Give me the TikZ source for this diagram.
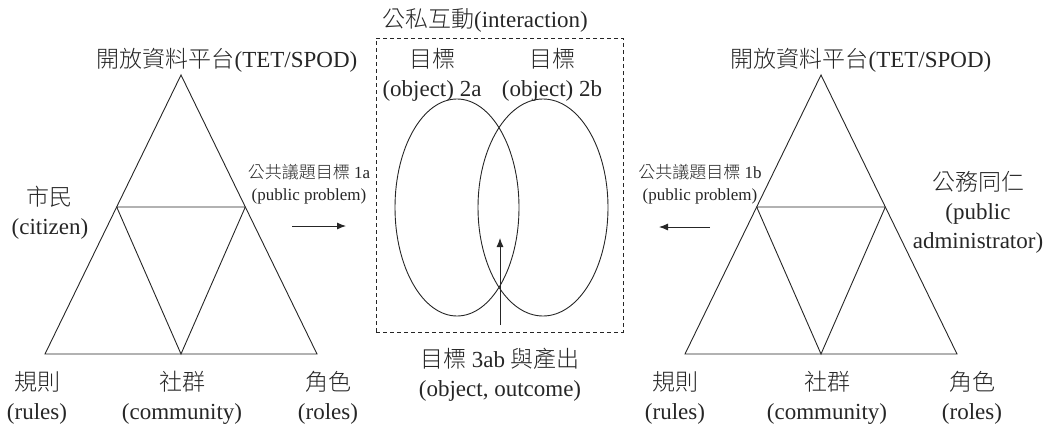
\documentclass[tikz,border=0pt]{standalone}
\usepackage{fontspec}
\setmainfont{Liberation Serif}
\newfontfamily\cjk{Noto Sans CJK TC Light}
\newcommand{\zh}[1]{{\cjk #1}}
\usetikzlibrary{shapes.geometric, positioning, arrows.meta, calc}

\begin{document}
\begin{tikzpicture}[
    x=1pt, y=-1pt,
    line width=0.9pt, color=black!85,
    txt/.style={align=center, inner sep=0pt, font=\fontsize{23}{29}\selectfont},
    smalltxt/.style={align=center, inner sep=0pt, font=\fontsize{17}{22}\selectfont},
    goal/.style={draw, ellipse, inner sep=0pt, minimum height=217pt},
    flow/.style={-{Latex[length=9pt,width=7pt]}}
]
    \useasboundingbox (0,0) rectangle (1047,426);

    % Left triangle (citizen)
    \coordinate (LT) at (181,75);
    \coordinate (LL) at (45,354);
    \coordinate (LR) at (317,354);
    \coordinate (LA) at ($(LT)!0.473!(LL)$);
    \coordinate (LB) at ($(LT)!0.473!(LR)$);
    \coordinate (LM) at ($(LL)!0.5!(LR)$);
    \draw (LT) -- (LL) -- (LR) -- cycle;
    \draw (LA) -- (LB) -- (LM) -- cycle;

    % Right triangle (public administrator)
    \coordinate (RT) at (821,75);
    \coordinate (RL) at (685,354);
    \coordinate (RR) at (957,354);
    \coordinate (RA) at ($(RT)!0.473!(RL)$);
    \coordinate (RB) at ($(RT)!0.473!(RR)$);
    \coordinate (RM) at ($(RL)!0.5!(RR)$);
    \draw (RT) -- (RL) -- (RR) -- cycle;
    \draw (RA) -- (RB) -- (RM) -- cycle;

    % Labels of the left triangle
    \node[txt] (LPlat) at (227,60) {\zh{開放資料平台}(TET/SPOD)};
    \node[txt] (LCit) at (50,213) {\zh{市民}\\(citizen)};
    \node[txt] (LRule) at (37,398) {\zh{規則}\\(rules)};
    \node[txt] (LComm) at (182,398) {\zh{社群}\\(community)};
    \node[txt] (LRole) at (328,398) {\zh{角色}\\(roles)};
    \node[smalltxt] (LProb) at (309,184) {\zh{公共議題目標} 1a\\(public problem)};

    % Labels of the right triangle
    \node[txt] (RPlat) at (861,60) {\zh{開放資料平台}(TET/SPOD)};
    \node[txt] (RAdm) at (978,212) {\zh{公務同仁}\\(public\\administrator)};
    \node[txt] (RRule) at (675,398) {\zh{規則}\\(rules)};
    \node[txt] (RComm) at (827,398) {\zh{社群}\\(community)};
    \node[txt] (RRole) at (972,398) {\zh{角色}\\(roles)};
    \node[smalltxt] (RProb) at (700,184) {\zh{公共議題目標} 1b\\(public problem)};

    % Interaction box
    \node[draw, line width=0.8pt, dash pattern=on 4pt off 3pt, minimum width=247pt, minimum height=294pt] (Box) at (499.5,185) {};
    \node[txt] (Inter) at (485,20) {\zh{公私互動}(interaction)};
    \node[txt] (Obj2a) at (432,75) {\zh{目標}\\(object) 2a};
    \node[txt] (Obj2b) at (552,75) {\zh{目標}\\(object) 2b};
    \node[goal, minimum width=124pt] (G2a) at (457,207.5) {};
    \node[goal, minimum width=130pt] (G2b) at (543,207.5) {};
    \node[txt] (Obj3) at (500,375) {\zh{目標} 3ab \zh{與產出}\\(object, outcome)};

    % Arrows
    \coordinate (OutS) at (500,325);
    \coordinate (OutE) at (500,238);
    \draw[flow] (OutS) -- (OutE);
    \coordinate (AS) at (292,226);
    \coordinate (AE) at (346,226);
    \draw[flow] (AS) -- (AE);
    \coordinate (BS) at (710,227);
    \coordinate (BE) at (659,227);
    \draw[flow] (BS) -- (BE);

\end{tikzpicture}
\end{document}
